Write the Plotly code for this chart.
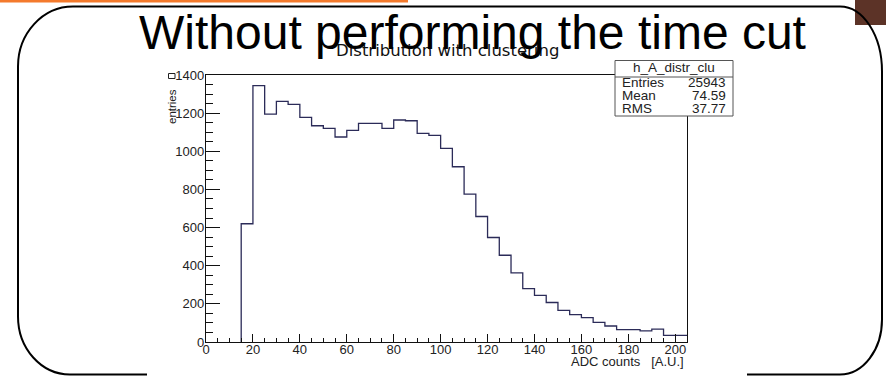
import plotly.graph_objects as go

# ---------------- data ----------------
bin_left = [15, 20, 25, 30, 35, 40, 45, 50, 55, 60, 65, 70, 75, 80, 85, 90, 95,
            100, 105, 110, 115, 120, 125, 130, 135, 140, 145, 150, 155, 160,
            165, 170, 175, 180, 185, 190, 195, 200]
counts = [620, 1344, 1195, 1262, 1246, 1178, 1134, 1120, 1075, 1110, 1146, 1146,
          1120, 1164, 1160, 1094, 1083, 1015, 919, 775, 658, 548, 455, 362, 280,
          245, 207, 166, 144, 128, 103, 84, 65, 65, 58, 67, 35, 35]
bin_width = 5
x_ticks = [0, 20, 40, 60, 80, 100, 120, 140, 160, 180, 200]
y_ticks = [0, 200, 400, 600, 800, 1000, 1200, 1400]
stat_labels = ["Entries", "Mean", "RMS"]
stat_values = ["25943", "74.59", "37.77"]
hist_name = "h_A_distr_clu"
slide_title = "Without performing the time cut"
plot_title = "Distribution with clustering"
x_title = "ADC counts\u00a0\u00a0\u00a0[A.U.]"
y_title = "entries"

# ---------------- layout geometry (pixels) ----------------
W, H = 886, 376
L, R, T, B = 206, 687, 75, 342


def px(x):
    return (x - L) / (R - L)


def py(y):
    return (B - y) / (B - T)


FONT = "Liberation Sans, Arial, sans-serif"

xs = [bin_left[0]] + bin_left + [bin_left[-1] + bin_width]
ys = [0] + counts + [counts[-1]]

fig = go.Figure()
fig.add_trace(go.Scatter(
    x=xs, y=ys, mode="lines", line=dict(shape="hv", color="#2b2b58", width=1.3),
    hoverinfo="skip", showlegend=False))

axis_common = dict(
    showgrid=False, zeroline=False, showline=True, linecolor="#111", linewidth=1.3,
    mirror=True, ticks="inside", tickcolor="#111", tickwidth=1,
    tickfont=dict(family=FONT, size=13, color="#222"),
)
fig.update_xaxes(range=[0, 205], tickvals=x_ticks, ticklen=8, ticklabelstandoff=-5,
                 minor=dict(dtick=5, tick0=0, ticks="inside", ticklen=4, tickcolor="#111"),
                 **axis_common)
fig.update_yaxes(range=[0, 1400], tickvals=y_ticks, ticklen=14, ticklabelstandoff=-2,
                 minor=dict(dtick=50, tick0=0, ticks="inside", ticklen=7, tickcolor="#111"),
                 **axis_common)

shapes = []
# orange line on top of the slide
shapes.append(dict(type="rect", xref="paper", yref="paper", x0=px(0), x1=px(408),
                   y0=py(0), y1=py(2.5), line=dict(width=0), fillcolor="#f47a2c",
                   layer="above"))
# brown block top-right
shapes.append(dict(type="rect", xref="paper", yref="paper", x0=px(855), x1=px(886),
                   y0=py(0), y1=py(25), line=dict(width=0), fillcolor="#5c3327",
                   layer="above"))

# rounded slide frame
k = 0.5523
xl, xr, yt, yb = 18, 882, 6.5, 374.5
c_tl = (55, 60)
c_tr = (42, 65)
c_br = (42, 55)
c_bl = (52, 58)


def P(x, y):
    return f"{px(x):.5f},{py(y):.5f}"


path = "M " + P(147, yb)
path += " L " + P(xl + c_bl[0], yb)
path += " C " + P(xl + c_bl[0] - k * c_bl[0], yb) + " " + P(xl, yb - c_bl[1] + k * c_bl[1]) + " " + P(xl, yb - c_bl[1])
path += " L " + P(xl, yt + c_tl[1])
path += " C " + P(xl, yt + c_tl[1] - k * c_tl[1]) + " " + P(xl + c_tl[0] - k * c_tl[0], yt) + " " + P(xl + c_tl[0], yt)
path += " L " + P(xr - c_tr[0], yt)
path += " C " + P(xr - c_tr[0] + k * c_tr[0], yt) + " " + P(xr, yt + c_tr[1] - k * c_tr[1]) + " " + P(xr, yt + c_tr[1])
path += " L " + P(xr, yb - c_br[1])
path += " C " + P(xr, yb - c_br[1] + k * c_br[1]) + " " + P(xr - c_br[0] + k * c_br[0], yb) + " " + P(xr - c_br[0], yb)
path += " L " + P(747, yb)
shapes.append(dict(type="path", xref="paper", yref="paper", path=path,
                   line=dict(color="black", width=2), fillcolor="rgba(0,0,0,0)",
                   layer="above"))

# stats box
shapes.append(dict(type="rect", xref="paper", yref="paper", x0=px(615), x1=px(733),
                   y0=py(116), y1=py(60.5), line=dict(color="#555", width=1),
                   fillcolor="white", layer="above"))
shapes.append(dict(type="line", xref="paper", yref="paper", x0=px(615), x1=px(733),
                   y0=py(77), y1=py(77), line=dict(color="#555", width=1),
                   layer="above"))
# small artifact box near the top y label
shapes.append(dict(type="rect", xref="paper", yref="paper", x0=px(168.5), x1=px(175),
                   y0=py(78.5), y1=py(73.5), line=dict(color="#222", width=1),
                   fillcolor="rgba(0,0,0,0)", layer="above"))

fig.update_layout(shapes=shapes)

ann = []
ann.append(dict(text=plot_title, x=px(447), y=py(50), xref="paper", yref="paper",
                xanchor="center", yanchor="middle", showarrow=False,
                font=dict(family="DejaVu Sans, sans-serif", size=16.5, color="#111")))
ann.append(dict(text=slide_title, x=px(472), y=py(32), xref="paper", yref="paper",
                xanchor="center", yanchor="middle", showarrow=False,
                font=dict(family=FONT, size=48, color="black")))
ann.append(dict(text=hist_name, x=px(674), y=py(68), xref="paper", yref="paper",
                xanchor="center", yanchor="middle", showarrow=False,
                font=dict(family=FONT, size=13.5, color="#222")))
row_y = [83, 95.5, 108]
for lab, val, yy in zip(stat_labels, stat_values, row_y):
    ann.append(dict(text=lab, x=px(620), y=py(yy), xref="paper", yref="paper",
                    xanchor="left", yanchor="middle", showarrow=False,
                    font=dict(family=FONT, size=13.5, color="#222")))
    ann.append(dict(text=val, x=px(728), y=py(yy), xref="paper", yref="paper",
                    xanchor="right", yanchor="middle", showarrow=False,
                    font=dict(family=FONT, size=13.5, color="#222")))
ann.append(dict(text=x_title, x=px(686), y=py(361), xref="paper", yref="paper",
                xanchor="right", yanchor="middle", showarrow=False,
                font=dict(family=FONT, size=13, color="#222")))
ann.append(dict(text=y_title, x=px(172), y=py(107), xref="paper", yref="paper",
                xanchor="center", yanchor="middle", showarrow=False, textangle=-90,
                font=dict(family=FONT, size=11.5, color="#222")))

fig.update_layout(
    annotations=ann,
    width=W, height=H, autosize=False,
    margin=dict(l=L, r=W - R, t=T, b=H - B, pad=0),
    paper_bgcolor="white", plot_bgcolor="white",
    showlegend=False,
)

fig.write_html("out.html", config=dict(displayModeBar=False))
